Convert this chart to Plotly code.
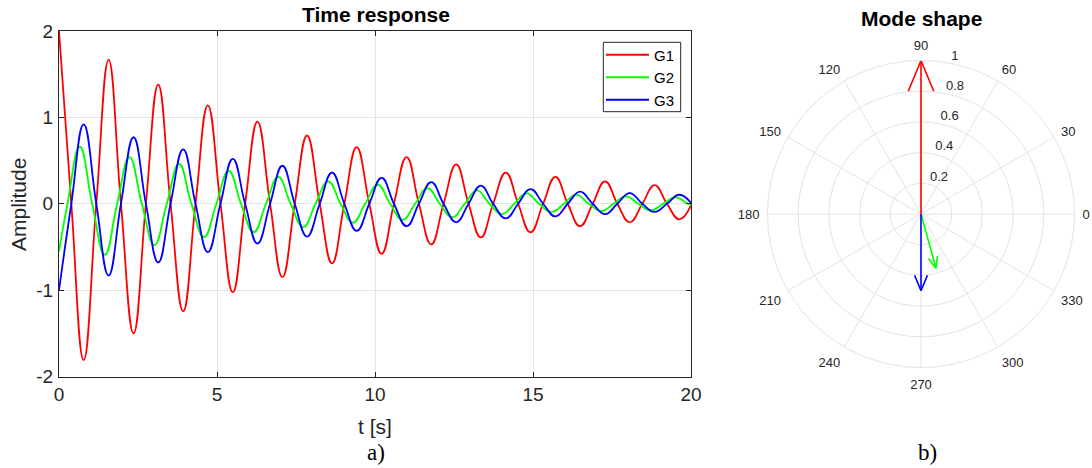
import math
import plotly.graph_objects as go

# ---------------- data: time response (extrema and zero crossings)
t_g1 = [0, 0.39, 0.78, 1.18, 1.57, 1.96, 2.36, 2.75, 3.14, 3.53, 3.93, 4.32, 4.71, 5.11,
        5.50, 5.89, 6.28, 6.68, 7.07, 7.46, 7.85, 8.25, 8.64, 9.03, 9.42, 9.82, 10.21,
        10.60, 11.00, 11.39, 11.78, 12.17, 12.57, 12.96, 13.35, 13.74, 14.14, 14.53,
        14.92, 15.32, 15.71, 16.10, 16.49, 16.89, 17.28, 17.67, 18.06, 18.46, 18.85,
        19.24, 19.63, 20.0]
g1 = [2.0, 0, -1.81, 0, 1.665, 0, -1.50, 0, 1.38, 0, -1.245, 0, 1.14, 0, -1.025, 0,
      0.95, 0, -0.85, 0, 0.79, 0, -0.69, 0, 0.655, 0, -0.58, 0, 0.54, 0, -0.47, 0,
      0.455, 0, -0.39, 0, 0.36, 0, -0.33, 0, 0.31, 0, -0.26, 0, 0.26, 0, -0.215, 0,
      0.215, 0, -0.18, -0.02]

t_g2 = [0, 0.27, 0.66, 1.05, 1.45, 1.84, 2.23, 2.62, 3.02, 3.41, 3.80, 4.19, 4.59, 4.98,
        5.37, 5.76, 6.16, 6.55, 6.94, 7.33, 7.73, 8.12, 8.52, 8.91, 9.30, 9.69, 10.09,
        10.48, 10.87, 11.27, 11.66, 12.05, 12.45, 12.84, 13.23, 13.62, 14.02, 14.41,
        14.80, 15.19, 15.59, 15.98, 16.37, 16.76, 17.16, 17.55, 17.94, 18.33, 18.73,
        19.12, 19.51, 19.90, 20.0]
g2 = [-0.55, 0, 0.66, 0, -0.59, 0, 0.54, 0, -0.48, 0, 0.46, 0, -0.385, 0, 0.38, 0,
      -0.33, 0, 0.31, 0, -0.27, 0, 0.26, 0, -0.22, 0, 0.22, 0, -0.185, 0, 0.18, 0,
      -0.155, 0, 0.154, 0, -0.12, 0, 0.12, 0, -0.095, 0, 0.105, 0, -0.085, 0, 0.085, 0,
      -0.077, 0, 0.073, 0, -0.01]

t_g3 = t_g1
g3 = [-1.0, 0, 0.92, 0, -0.83, 0, 0.77, 0, -0.68, 0, 0.63, 0, -0.56, 0, 0.52, 0,
      -0.46, 0, 0.44, 0, -0.38, 0, 0.36, 0, -0.315, 0, 0.30, 0, -0.26, 0, 0.25, 0,
      -0.215, 0, 0.21, 0, -0.17, 0, 0.17, 0, -0.147, 0, 0.14, 0, -0.12, 0, 0.124, 0,
      -0.095, 0, 0.104, 0.01]

series_names = ["G1", "G2", "G3"]
series_colors = ["#ff0000", "#00ff00", "#0000ff"]

x_ticks = [0, 5, 10, 15, 20]
y_ticks = [-2, -1, 0, 1, 2]
y_ticktext = ["-2", "-1", "0", "1", "2"]

# ---------------- data: mode shape (polar vectors)
mode_mag = [1.0, 0.366, 0.50]
mode_ang = [90, 285.5, 270]
r_ticks = [0.2, 0.4, 0.6, 0.8, 1.0]
r_ticktext = ["0.2", "0.4", "0.6", "0.8", "1"]
theta_ticks = list(range(0, 360, 30))
R_LABEL_ANGLE = 80

W, H = 1092, 468
FONT = "Liberation Sans, Arial, Helvetica, sans-serif"
TXT = "#262626"
GRID = "#e3e3e3"

fig = go.Figure()

for name, col, tt, yy in zip(series_names, series_colors, [t_g1, t_g2, t_g3], [g1, g2, g3]):
    fig.add_trace(go.Scatter(x=tt, y=yy, mode="lines", name=name,
                             line=dict(color=col, width=1.8, shape="spline", smoothing=1.3),
                             xaxis="x", yaxis="y"))

# polar arrows (shaft + open arrowhead), head geometry derived from each vector
HEAD_LEN = 0.2
HEAD_HALF = 0.083
for name, col, mag, ang in zip(series_names, series_colors, mode_mag, mode_ang):
    a = math.radians(ang)
    bx, by = (1 - HEAD_LEN) * mag * math.cos(a), (1 - HEAD_LEN) * mag * math.sin(a)
    px, py = -math.sin(a) * HEAD_HALF * mag, math.cos(a) * HEAD_HALF * mag
    pts = [(bx + px, by + py), (bx - px, by - py)]
    rb = [math.hypot(x, y) for x, y in pts]
    tb = [math.degrees(math.atan2(y, x)) for x, y in pts]
    fig.add_trace(go.Scatterpolar(
        r=[0, mag, None, rb[0], mag, rb[1]],
        theta=[ang, ang, None, tb[0], ang, tb[1]],
        mode="lines", line=dict(color=col, width=1.6),
        showlegend=False, subplot="polar", hoverinfo="skip"))

# radial tick labels (horizontal, beside the 80 degree ray)
fig.add_trace(go.Scatterpolar(
    r=r_ticks, theta=[R_LABEL_ANGLE] * len(r_ticks), mode="text",
    text=["\u00a0" + s for s in r_ticktext], textposition="top right",
    textfont=dict(size=13, color=TXT, family=FONT),
    showlegend=False, subplot="polar", hoverinfo="skip", cliponaxis=False))

def px2x(p):
    return p / W

def px2y(p):
    return 1 - p / H

fig.update_layout(
    width=W, height=H, autosize=False,
    margin=dict(l=0, r=0, t=0, b=0, autoexpand=False),
    paper_bgcolor="white", plot_bgcolor="white",
    font=dict(family=FONT, color=TXT),
    xaxis=dict(domain=[px2x(59), px2x(691)], range=[0, 20], tickvals=x_ticks,
               showgrid=True, gridcolor=GRID, zeroline=False, automargin=False,
               showline=True, linecolor=TXT, linewidth=1, mirror="ticks",
               ticks="inside", ticklen=5, tickcolor=TXT,
               tickfont=dict(size=19, color=TXT), ticklabelstandoff=1),
    yaxis=dict(domain=[px2y(376.5), px2y(31)], range=[-2, 2], tickvals=y_ticks,
               ticktext=y_ticktext, automargin=False,
               showgrid=True, gridcolor=GRID, zeroline=False,
               showline=True, linecolor=TXT, linewidth=1, mirror="ticks",
               ticks="inside", ticklen=5, tickcolor=TXT,
               tickfont=dict(size=19, color=TXT), ticklabelstandoff=1),
    legend=dict(x=px2x(601), y=px2y(38.5), xanchor="left", yanchor="top",
                bgcolor="rgba(0,0,0,0)", borderwidth=0,
                font=dict(size=15, color="#000000"), itemwidth=43,
                tracegroupgap=0),
    polar=dict(
        domain=dict(x=[px2x(921 - 153.5), px2x(921 + 153.5)],
                    y=[px2y(214 + 153.5), px2y(214 - 153.5)]),
        bgcolor="white",
        radialaxis=dict(range=[0, 1], tickvals=r_ticks, showticklabels=False,
                        angle=R_LABEL_ANGLE, showline=False, ticks="", gridcolor=GRID, gridwidth=1),
        angularaxis=dict(rotation=0, direction="counterclockwise",
                         tickvals=theta_ticks,
                         ticktext=[str(v) for v in theta_ticks],
                         showline=True, linecolor=GRID, linewidth=1,
                         gridcolor=GRID, gridwidth=1,
                         ticks="outside", ticklen=5, tickcolor="rgba(0,0,0,0)",
                         tickfont=dict(size=13, color=TXT)),
    ),
    showlegend=True,
)

# legend frame
fig.add_shape(type="rect", xref="paper", yref="paper",
              x0=px2x(603.3), x1=px2x(680.7), y0=px2y(111.7), y1=px2y(42.3),
              line=dict(color=TXT, width=1), fillcolor="white", layer="below")

annots = [
    dict(text="<b>Time response</b>", x=px2x(376), y=px2y(14), size=21, family=FONT, color="#000000"),
    dict(text="<b>Mode shape</b>", x=px2x(921.5), y=px2y(19), size=21, family=FONT, color="#000000"),
    dict(text="t [s]", x=px2x(375), y=px2y(426), size=21, family=FONT, color=TXT),
    dict(text="a)", x=px2x(376), y=px2y(452), size=23, family="Liberation Serif, Times New Roman, serif", color="#000000"),
    dict(text="b)", x=px2x(927), y=px2y(452), size=23, family="Liberation Serif, Times New Roman, serif", color="#000000"),
]
for a in annots:
    fig.add_annotation(text=a["text"], x=a["x"], y=a["y"], xref="paper", yref="paper",
                       xanchor="center", yanchor="middle", showarrow=False,
                       font=dict(size=a["size"], family=a["family"], color=a["color"]))
fig.add_annotation(text="Amplitude", x=px2x(18), y=px2y(205), xref="paper", yref="paper",
                   xanchor="center", yanchor="middle", showarrow=False, textangle=-90,
                   font=dict(size=21, family=FONT, color=TXT))

fig.write_html("out.html", config={"displayModeBar": False},
               post_script="document.body.style.margin='0px';")
